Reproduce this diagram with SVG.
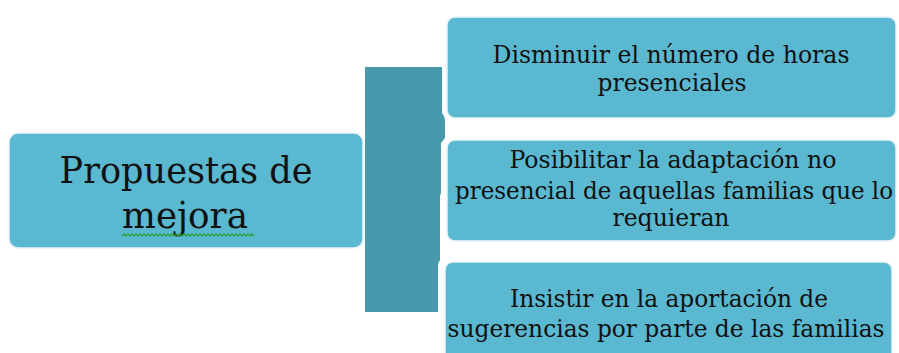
<svg xmlns="http://www.w3.org/2000/svg" width="899" height="353" viewBox="0 0 899 353">
<style>
.box{fill:#5ab8d0;stroke:#e8f4f8;stroke-width:1.5}
.t{font-family:"DejaVu Serif Condensed","DejaVu Serif",serif;fill:#111;text-anchor:middle}
.s{font-size:24px}
.b{font-size:38px}
</style>
<rect width="899" height="353" fill="#ffffff"/>
<g id="connectors">
<path d="M365,67 H442 V113 Q445,116 445,122 V138 L441,143 V193 L440,196 V260 L438,264 V312 H365 Z" fill="#4899ad"/>
</g>
<g id="root">
<rect class="box" x="9" y="133" width="354" height="115" rx="9"/>
<text class="t b" x="186" y="183" textLength="253" lengthAdjust="spacingAndGlyphs">Propuestas de</text>
<text class="t b" x="185" y="228" textLength="126" lengthAdjust="spacingAndGlyphs">mejora</text>
<path d="M122,236 l2,-2 l2,2 l2,-2 l2,2 l2,-2 l2,2 l2,-2 l2,2 l2,-2 l2,2 l2,-2 l2,2 l2,-2 l2,2 l2,-2 l2,2 l2,-2 l2,2 l2,-2 l2,2 l2,-2 l2,2 l2,-2 l2,2 l2,-2 l2,2 l2,-2 l2,2 l2,-2 l2,2 l2,-2 l2,2 l2,-2 l2,2 l2,-2 l2,2 l2,-2 l2,2 l2,-2 l2,2 l2,-2 l2,2 l2,-2 l2,2 l2,-2 l2,2 l2,-2 l2,2 l2,-2 l2,2 l2,-2 l2,2 l2,-2 l2,2 l2,-2 l2,2 l2,-2 l2,2 l2,-2 l2,2 l2,-2 l2,2 l2,-2 l2,2 l2,-2 l2,2" fill="none" stroke="#2e9e3a" stroke-width="1.3"/>
</g>
<g id="n1">
<rect class="box" x="447" y="17" width="449" height="101" rx="8"/>
<text class="t s" x="671" y="63" textLength="357" lengthAdjust="spacingAndGlyphs">Disminuir el número de horas</text>
<text class="t s" x="672" y="91" textLength="149" lengthAdjust="spacingAndGlyphs">presenciales</text>
</g>
<g id="n2">
<rect class="box" x="447" y="140" width="449" height="101" rx="8"/>
<text class="t s" x="673" y="168" textLength="327" lengthAdjust="spacingAndGlyphs">Posibilitar la adaptación no</text>
<text class="t s" x="674" y="199" textLength="438" lengthAdjust="spacingAndGlyphs">presencial de aquellas familias que lo</text>
<text class="t s" x="671" y="226" textLength="117" lengthAdjust="spacingAndGlyphs">requieran</text>
</g>
<g id="n3">
<rect class="box" x="445" y="262" width="447" height="110" rx="8"/>
<text class="t s" x="669" y="307" textLength="318" lengthAdjust="spacingAndGlyphs">Insistir en la aportación de</text>
<text class="t s" x="666" y="337" textLength="437" lengthAdjust="spacingAndGlyphs">sugerencias por parte de las familias</text>
</g>
</svg>
